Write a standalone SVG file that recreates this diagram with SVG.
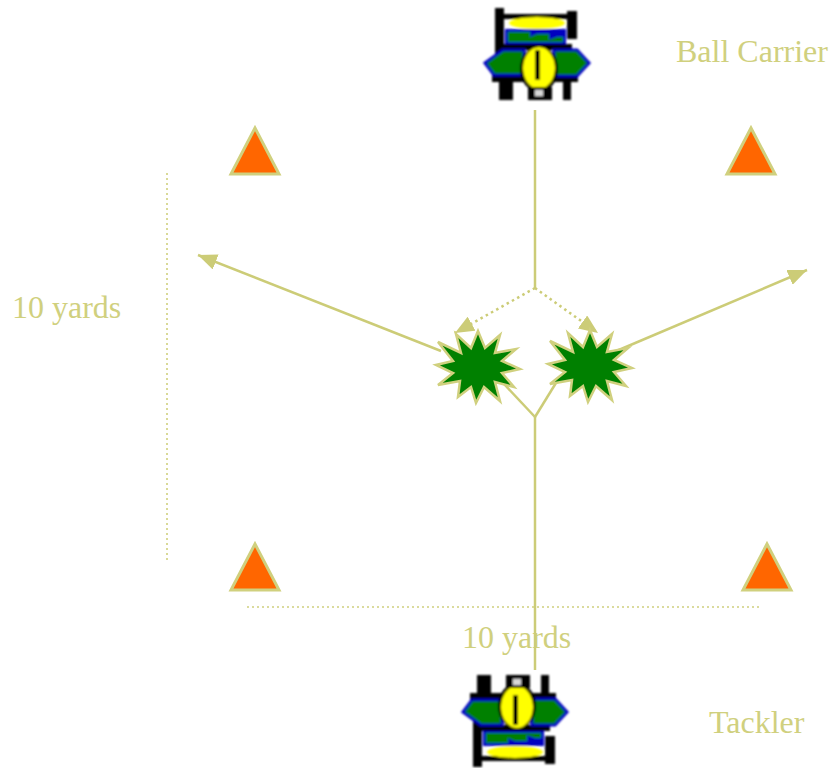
<svg xmlns="http://www.w3.org/2000/svg" xmlns:xlink="http://www.w3.org/1999/xlink" width="830" height="768" viewBox="0 0 830 768">
  <style>
    .label { font-family: "Liberation Serif", "Times New Roman", serif; font-size: 32px; fill: #d0d07e; }
    .route { fill: none; stroke: #cccc77; stroke-width: 2.5; }
    .dotted { stroke-dasharray: 2.5 3.5; }
    .guide { fill: none; stroke: #d0d07e; stroke-width: 1.6; stroke-dasharray: 2 3; }
    .cone { fill: #ff6600; stroke: #d0d07e; stroke-width: 3; stroke-linejoin: miter; }
    .burst { fill: #008000; stroke: #d0d07e; stroke-width: 2.5; stroke-linejoin: miter; }
  </style>
  <defs>
    <marker id="head" markerUnits="userSpaceOnUse" markerWidth="19" markerHeight="16" refX="19" refY="8" orient="auto">
      <path d="M0,0 L19,8 L0,16 z" fill="#cccc77"/>
    </marker>
    <filter id="soft" x="-10%" y="-10%" width="120%" height="120%">
      <feGaussianBlur stdDeviation="1"/>
    </filter>
    <!-- 12-point burst used for the two contact points -->
    <polygon id="burst-shape" class="burst" points="42,2 24,6 36,20 17,15 22,34 6,20 -2,36 -7,20 -20,30 -18,14 -40,18 -25,6 -42,-2 -25,-6 -40,-25 -17,-14 -22,-33 -7,-19 0,-36 7,-19 22,-32 17,-14 38,-18 24,-6"/>
    <!-- player clip-art figure -->
    <g id="player-figure" filter="url(#soft)">
      <path fill="#000" d="M495,8 h9 v46 h-9 z"/>
      <path fill="#000" d="M503,14 h66 v5 h-66 z"/>
      <path fill="#000" d="M567,11 h10 v28 h-10 z"/>
      <ellipse cx="537" cy="23" rx="28" ry="6" fill="#ffff00"/>
      <path fill="#0000c0" d="M505,29 h61 v15 h-61 z"/>
      <path fill="#008000" d="M508,32 h22 v5 l7,-3 h12 v6 l8,-3 h6 v5 h-55 z"/>
      <path fill="#000" d="M500,44 h72 v6 h-72 z"/>
      <path fill="#000" d="M492,74 h86 v8 h-86 z"/>
      <polygon fill="#008000" stroke="#0000c0" stroke-width="3" points="485,63 503,50 524,50 524,75 494,75"/>
      <polygon fill="#008000" stroke="#0000c0" stroke-width="3" points="554,50 577,50 589,63 577,76 554,76"/>
      <ellipse cx="539" cy="69" rx="19" ry="23" fill="#000"/>
      <ellipse cx="539" cy="68" rx="16" ry="21" fill="#ffff00"/>
      <path fill="#000" d="M535,50 h5 v30 h-5 z"/>
      <path fill="#000" d="M499,80 h14 v20 h-14 z"/>
      <path fill="#000" d="M528,87 h24 v13 h-24 z"/>
      <path fill="#d8d8d8" d="M535,90 h8 v6 h-8 z"/>
      <path fill="#000" d="M563,82 h8 v18 h-8 z"/>
    </g>
  </defs>

  <!-- distance guides -->
  <g id="guides">
    <line class="guide" x1="167" y1="173" x2="167" y2="560"/>
    <line class="guide" x1="247" y1="607" x2="760" y2="607"/>
    <text class="label" x="12" y="318">10 yards</text>
    <text class="label" x="462" y="648">10 yards</text>
  </g>

  <!-- cones -->
  <g id="cones">
    <polygon id="cone-tl" class="cone" points="255,128 231,174 279,174"/>
    <polygon id="cone-tr" class="cone" points="751,128 727,174 775,174"/>
    <polygon id="cone-bl" class="cone" points="255,544 231,590 279,590"/>
    <polygon id="cone-br" class="cone" points="767,544 743,590 791,590"/>
  </g>

  <!-- routes -->
  <g id="connectors">
    <line class="route" x1="535" y1="110" x2="535" y2="288"/>
    <line class="route dotted" x1="535" y1="288" x2="455" y2="333" marker-end="url(#head)"/>
    <line class="route dotted" x1="535" y1="288" x2="598" y2="333" marker-end="url(#head)"/>
    <line class="route" x1="535" y1="670" x2="535" y2="417"/>
    <line class="route" x1="535" y1="417" x2="504" y2="384"/>
    <line class="route" x1="535" y1="417" x2="559" y2="378"/>
    <line class="route" x1="441" y1="351" x2="198" y2="255" marker-end="url(#head)"/>
    <line class="route" x1="614" y1="352" x2="807" y2="270" marker-end="url(#head)"/>
  </g>

  <!-- contact points -->
  <g id="contact-left"><use xlink:href="#burst-shape" transform="translate(478,367)"/></g>
  <g id="contact-right"><use xlink:href="#burst-shape" transform="translate(590,366)"/></g>

  <!-- players -->
  <g id="ball-carrier">
    <use xlink:href="#player-figure"/>
    <text class="label" x="676" y="62">Ball Carrier</text>
  </g>
  <g id="tackler">
    <use xlink:href="#player-figure" transform="matrix(1,0,0,-1,-22,775)"/>
    <text class="label" x="709" y="733">Tackler</text>
  </g>
</svg>
